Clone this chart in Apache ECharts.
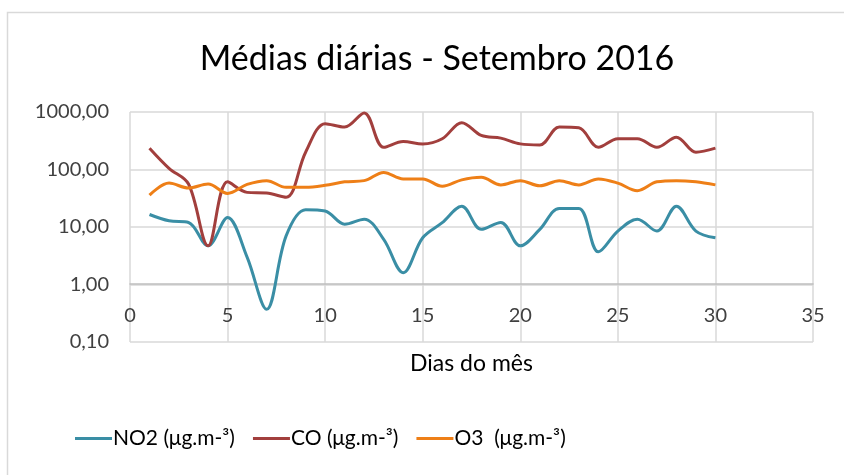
<!DOCTYPE html>
<html>
<head>
<meta charset="utf-8">
<script src="https://cdn.jsdelivr.net/npm/echarts@6/dist/echarts.min.js"></script>
<style>html,body{margin:0;padding:0;background:#fff}#c{width:844px;height:475px}</style>
</head>
<body>
<div id="c"></div>
<script>
var days = [1,2,3,4,5,6,7,8,9,10,11,12,13,14,15,16,17,18,19,20,21,22,23,24,25,26,27,28,29,30];
var no2 = [16.5,12.8,12,4.7,14.6,3,0.37,7,20,19,11.2,13.7,6.1,1.6,6.5,11.9,23,9.1,12,4.7,9.1,21,21,3.7,8.5,13.7,8.5,23,8.5,6.5];
var co = [235,105,56,4.7,61,40,39,33,200,627,547,960,244,307,279,343,653,391,351,279,268,547,530,244,343,343,244,365,200,235];
var o3 = [35.8,58,47.6,56,38.4,55,64,49,49,53,61,64,89,68.5,68.5,51,66,73,54,64,52,64,54,68.5,58,42.8,61,64,61,54];
var seriesNames = ['NO2 (μg.m-³)', 'CO (μg.m-³)', 'O3  (μg.m-³)'];
var colors = ['#3A8EA5', '#A23F3D', '#EE7F17'];
var xTicks = {min: 0, max: 35, interval: 5};
var yTicks = {min: 0.1, max: 1000};

function pairs(vals){ return days.map(function(d,i){ return [d, vals[i]]; }); }
var font = 'Lato, "Open Sans", sans-serif';
var chart = echarts.init(document.getElementById('c'), null, {renderer:'canvas'});
var seriesData = [no2, co, o3];
chart.setOption({
  animation: false,
  backgroundColor: '#fff',
  graphic: [{type:'rect', shape:{x:7.5,y:12.5,width:900,height:600}, style:{fill:'none', stroke:'#d9d9d9', lineWidth:1.5}, silent:true}],
  title: {text: 'Médias diárias - Setembro 2016', left: 432, textAlign: 'center', top: 37,
    textStyle: {fontFamily: font, fontSize: 34, fontWeight: 'normal', color: '#000'}},
  grid: {left: 130, right: 31, top: 112, bottom: 133},
  legend: {bottom: 21, left: 70, itemWidth: 37, itemHeight: 3, itemGap: 18,
    icon: 'rect', textStyle: {fontFamily: font, fontSize: 21, color: '#000', padding:[0,0,0,-4]},
    data: seriesNames},
  xAxis: {type: 'value', min: xTicks.min, max: xTicks.max, interval: xTicks.interval,
    offset: -58.7,
    name: 'Dias do mês', nameLocation: 'middle', nameGap: 69,
    nameTextStyle: {fontFamily: font, fontSize: 23, color: '#000'},
    axisLine: {show: true, lineStyle: {color: '#bfbfbf', width: 1.5}},
    axisTick: {show: false},
    axisLabel: {margin: 22, fontFamily: font, fontSize: 20, color: '#404040'},
    splitLine: {show: true, lineStyle: {color: '#d9d9d9', width: 1.5}}},
  yAxis: {type: 'log', logBase: 10, min: yTicks.min, max: yTicks.max,
    axisLine: {show: false}, axisTick: {show: false},
    axisLabel: {margin: 21, fontFamily: font, fontSize: 20, color: '#404040',
      formatter: function(v){ return v.toFixed(2).replace('.', ','); }},
    splitLine: {show: true, lineStyle: {color: '#d9d9d9', width: 1.5}}},
  series: seriesNames.map(function(n, i){
    return {name: n, type: 'line', data: pairs(seriesData[i]), smooth: 0.35, showSymbol: false,
      symbol: 'none', lineStyle: {color: colors[i], width: 3}, itemStyle: {color: colors[i]}};
  })
});
</script>
</body>
</html>
